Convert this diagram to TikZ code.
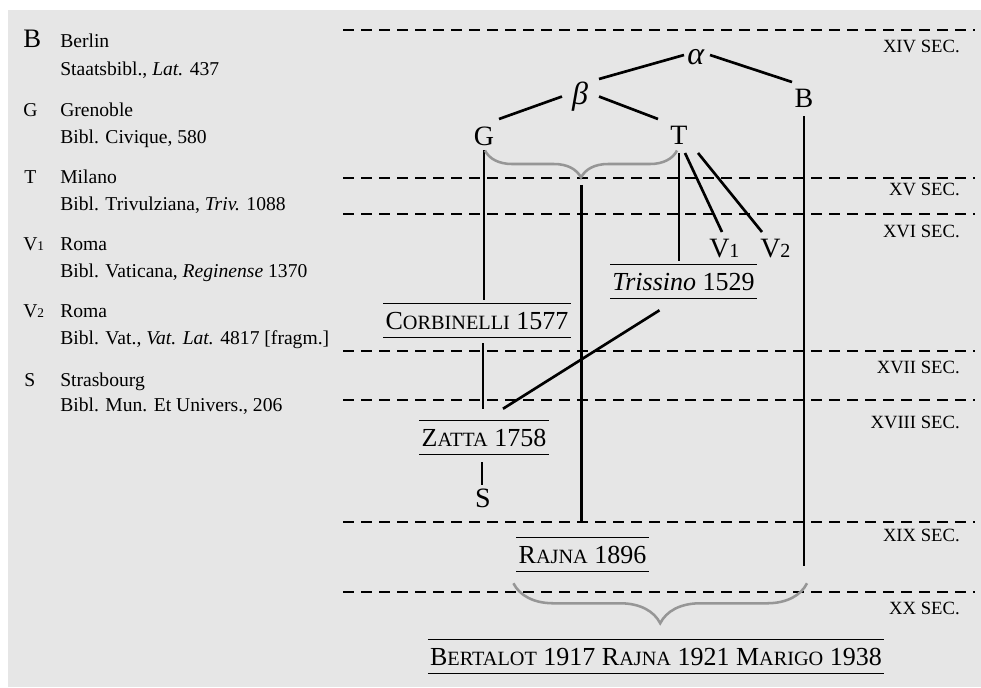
\documentclass[tikz,border=0pt]{standalone}
\usepackage{fontspec}
\setmainfont{Liberation Serif}
\usetikzlibrary{calc,decorations.pathreplacing}
\definecolor{bgc}{RGB}{230,230,230}
\definecolor{brc}{RGB}{150,150,150}
\newcommand\smc[1]{{\fontsize{15.2pt}{15.2pt}\selectfont #1}}
\newcommand\lsub[1]{{\fontsize{10pt}{10pt}\selectfont #1}}
\newcommand\dsub[1]{{\fontsize{15pt}{15pt}\selectfont #1}}
\begin{document}
\begin{tikzpicture}[x=0.75pt,y=-0.75pt,
  listtxt/.style={anchor=base west, inner sep=0pt, font=\fontsize{14.7pt}{14.7pt}\selectfont},
  seclab/.style={anchor=base east, inner sep=0pt, font=\fontsize{14pt}{14pt}\selectfont},
  ltr/.style={inner sep=0pt, font=\fontsize{21pt}{21pt}\selectfont},
  grk/.style={inner sep=0pt, font=\fontsize{24pt}{24pt}\selectfont},
  ed/.style={inner xsep=1.5pt, inner ysep=0pt, minimum height=24.75pt, text height=13pt, text depth=0pt, font=\fontsize{19.5pt}{19.5pt}\selectfont},
  conn/.style={line width=2pt},
  rule/.style={line width=1.1pt},
  era/.style={line width=2pt, dash pattern=on 8.25pt off 5.25pt},
  brc/.style={draw=brc, line width=1.9pt, decorate}]
\useasboundingbox (0,0) rectangle (981,687);
\fill[bgc] (8,10) rectangle (981,687);

% left legend
\node[listtxt, font=\fontsize{20pt}{20pt}\selectfont] (kB) at (23,47) {B};
\node[listtxt] (kB1) at (60,47) {Berlin};
\node[listtxt] (kB2) at (60,75) {Staatsbibl., \textit{Lat.} 437};
\node[listtxt] (kG) at (23,116) {G};
\node[listtxt] (kG1) at (60,116) {Grenoble};
\node[listtxt] (kG2) at (60,143) {Bibl. Civique, 580};
\node[listtxt] (kT) at (24,183) {T};
\node[listtxt] (kT1) at (60,183) {Milano};
\node[listtxt] (kT2) at (60,210) {Bibl. Trivulziana, \textit{Triv.} 1088};
\node[listtxt] (kV) at (23,250) {V\lsub{1}};
\node[listtxt] (kV1) at (60,250) {Roma};
\node[listtxt] (kV2) at (60,277) {Bibl. Vaticana, \textit{Reginense} 1370};
\node[listtxt] (kW) at (23,317) {V\lsub{2}};
\node[listtxt] (kW1) at (60,317) {Roma};
\node[listtxt] (kW2) at (60,344) {Bibl. Vat., \textit{Vat. Lat.} 4817 [fragm.]};
\node[listtxt] (kS) at (24,386) {S};
\node[listtxt] (kS1) at (60,386) {Strasbourg};
\node[listtxt] (kS2) at (60,411) {Bibl. Mun. Et Univers., 206};

% century lines
\foreach \yy in {30,178,214,351,400,522,592}
  \draw[era] (343,\yy) -- (975,\yy);
\node[seclab] (s14) at (960,52) {XIV SEC.};
\node[seclab] (s15) at (960,195) {XV SEC.};
\node[seclab] (s16) at (960,237) {XVI SEC.};
\node[seclab] (s17) at (960,373) {XVII SEC.};
\node[seclab] (s18) at (960,428) {XVIII SEC.};
\node[seclab] (s19) at (960,541) {XIX SEC.};
\node[seclab] (s20) at (960,614) {XX SEC.};

% stemma nodes
\node[grk] (alpha) at (696,57) {\textit{α}};
\node[grk] (beta) at (580,97) {\textit{β}};
\node[ltr] (G) at (484,136) {G};
\node[ltr] (T) at (679,135.5) {T};
\node[ltr] (B) at (804,98) {B};
\node[ltr, anchor=base west] (V1) at (709,257) {V\dsub{1}};
\node[ltr, anchor=base west] (V2) at (760,257) {V\dsub{2}};
\node[ltr] (S) at (483,498) {S};

\node[ed] (corb) at (477,320.5) {C\smc{ORBINELLI} 1577};
\node[ed] (triss) at (683.5,281.5) {\textit{Trissino} 1529};
\node[ed] (zatta) at (484,437.5) {Z\smc{ATTA} 1758};
\node[ed] (rajna) at (582.5,554.5) {R\smc{AJNA} 1896};
\node[ed] (bott) at (656,656.5) {B\smc{ERTALOT} 1917 R\smc{AJNA} 1921 M\smc{ARIGO} 1938};
\foreach \n in {corb,triss,zatta,rajna,bott}
  \draw[rule] (\n.north west) -- (\n.north east) (\n.south west) -- (\n.south east);

% connectors
\draw[conn] ($(beta)+(19,-18)$) -- ($(alpha)+(-12,-2)$);
\draw[conn] ($(alpha)+(14,-2)$) -- ($(B)+(-12,-16)$);
\draw[conn] ($(beta)+(-18,-0.5)$) -- ($(G)+(15,-17)$);
\draw[conn] ($(beta)+(19,-0.5)$) -- ($(T)+(-21,-16.5)$);
\draw[conn] ($(G)+(0,14)$) -- ($(G |- corb.north)+(0,-4)$);
\draw[conn] ($(T)+(0,17.5)$) -- ($(T |- triss.north)+(0,-4)$);
\draw[conn] ($(T)+(6,17.5)$) -- ($(V1.base west)+(13,-25)$);
\draw[conn] ($(T)+(19,17.5)$) -- ($(V2.base west)+(2,-25)$);
\draw[conn] ($(B)+(0,18)$) -- ($(B |- rajna.south)+(0,-5)$);
\draw[brc, decoration={brace,amplitude=20.25pt}] ($(T)+(-2,15)$) -- ($(G)+(1,14.5)$);
\coordinate (gt) at ($(G)!0.5!(T)+(0,49)$);
\draw[conn] (gt) -- ($(gt |- rajna.north)+(0,-16)$);
\draw[conn] ($(triss.south)+(-24,12)$) -- ($(zatta.north)+(19,-12)$);
\draw[conn] ($(corb.south -| zatta.north)+(-1,6)$) -- ($(zatta.north)+(-1,-12)$);
\draw[conn] ($(zatta.south)+(-2,8)$) -- ($(S)+(-1,-13)$);
\draw[brc, decoration={brace,amplitude=30pt}] ($(B |- rajna.south)+(3,12)$) -- ($(rajna.south west)+(-3,12)$);
\end{tikzpicture}
\end{document}
